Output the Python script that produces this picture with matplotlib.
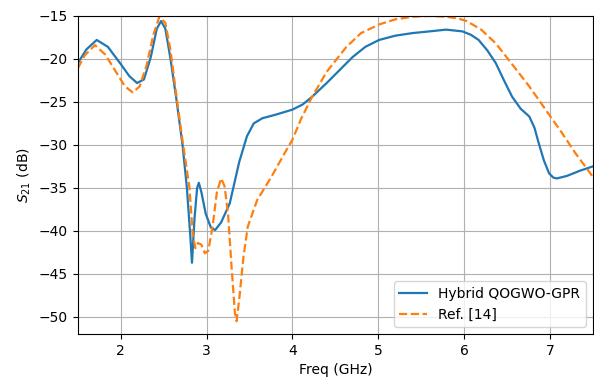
import matplotlib
matplotlib.use("Agg")
import matplotlib.pyplot as plt

# Hybrid QOGWO-GPR
hyb_freq = [1.50, 1.60, 1.72, 1.85, 2.00, 2.10, 2.19, 2.27, 2.35, 2.42, 2.47, 2.52,
            2.58, 2.65, 2.72, 2.77, 2.81, 2.83, 2.86, 2.89, 2.91, 2.94, 2.99, 3.05,
            3.10, 3.17, 3.27, 3.38, 3.47, 3.55, 3.65, 3.80, 4.00, 4.12, 4.23, 4.40,
            4.55, 4.70, 4.85, 5.01, 5.20, 5.40, 5.60, 5.79, 5.98, 6.08, 6.17, 6.27,
            6.37, 6.47, 6.56, 6.66, 6.76, 6.82, 6.87, 6.93, 6.99, 7.04, 7.08, 7.20,
            7.35, 7.50]
hyb_s21 = [-20.5, -18.9, -17.8, -18.6, -20.6, -22.0, -22.8, -22.4, -19.8, -16.5, -15.6, -16.5,
           -20.0, -24.8, -30.0, -34.9, -40.5, -43.7, -38.5, -35.0, -34.4, -35.5, -38.0, -39.6,
           -39.9, -39.0, -36.8, -32.0, -29.0, -27.5, -26.9, -26.5, -25.9, -25.3, -24.4, -22.8,
           -21.3, -19.8, -18.6, -17.8, -17.3, -17.0, -16.8, -16.6, -16.8, -17.2, -17.8, -19.0,
           -20.5, -22.6, -24.4, -25.8, -26.7, -28.0, -29.8, -31.8, -33.3, -33.8, -33.9, -33.6,
           -33.0, -32.5]

# Ref. [14]
ref_freq = [1.50, 1.58, 1.70, 1.82, 1.95, 2.05, 2.14, 2.22, 2.30, 2.38, 2.45, 2.52,
            2.58, 2.65, 2.72, 2.80, 2.84, 2.87, 2.90, 2.94, 2.98, 3.02, 3.07, 3.12,
            3.17, 3.21, 3.25, 3.29, 3.33, 3.35, 3.38, 3.43, 3.48, 3.59, 3.75, 3.93,
            4.00, 4.10, 4.23, 4.40, 4.55, 4.63, 4.80, 5.01, 5.20, 5.40, 5.60, 5.79,
            5.93, 6.03, 6.20, 6.37, 6.55, 6.76, 6.95, 7.14, 7.30, 7.50]
ref_s21 = [-21.1, -19.6, -18.4, -19.5, -21.6, -23.2, -23.9, -23.2, -20.8, -17.2, -15.1, -15.8,
           -19.0, -24.4, -29.5, -34.9, -40.5, -42.0, -41.4, -41.6, -42.6, -42.3, -39.5, -35.5,
           -33.9, -34.8, -38.0, -44.0, -49.5, -50.5, -48.0, -43.0, -39.5, -36.4, -33.8, -30.6,
           -29.4, -27.0, -24.4, -21.5, -19.6, -18.6, -17.0, -16.0, -15.4, -15.1, -15.0, -15.1,
           -15.3, -15.6, -16.6, -18.2, -20.5, -23.2, -25.9, -28.6, -31.0, -33.7]

fig = plt.figure(figsize=(5.94, 3.78), dpi=100)
ax = fig.add_axes([0.131, 0.116, 0.867, 0.842])

ax.plot(hyb_freq, hyb_s21, color="tab:blue", lw=1.6, label="Hybrid QOGWO-GPR")
ax.plot(ref_freq, ref_s21, color="tab:orange", lw=1.6, ls="--", label="Ref. [14]")

ax.set_xlim(1.5, 7.5)
ax.set_ylim(-52, -15)
ax.set_xlabel("Freq (GHz)")
ax.set_ylabel("$S_{21}$ (dB)")
ax.grid(True)
ax.legend(loc="lower right")

fig.savefig("out.png", dpi=100)
